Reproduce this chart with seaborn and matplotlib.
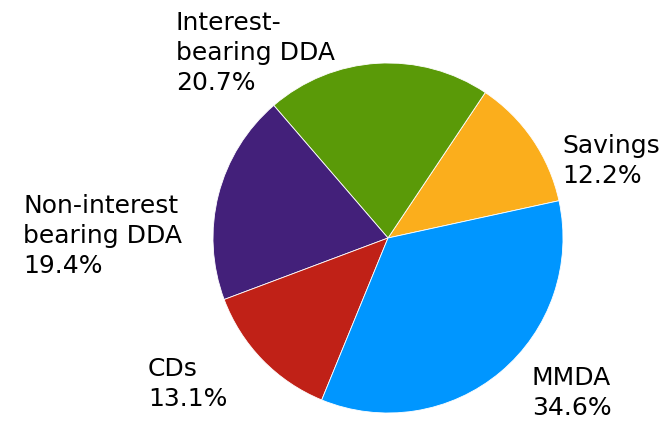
import matplotlib
matplotlib.use("Agg")
import matplotlib.pyplot as plt
import seaborn as sns

sns.set_theme(style="white")
plt.rcParams['font.family'] = ['DejaVu Sans']

categories = ["Savings", "Interest-\nbearing DDA", "Non-interest\nbearing DDA", "CDs", "MMDA"]
values = [12.2, 20.7, 19.4, 13.1, 34.6]
colors = ["#FBAE1C", "#5A9A08", "#43207A", "#C02117", "#0096FF"]

W, H = 671, 422
fig = plt.figure(figsize=(W / 100, H / 100), dpi=100)
cx, cy, r = 388, 238, 175
ax = fig.add_axes([(cx - r) / W, (H - cy - r) / H, 2 * r / W, 2 * r / H])
ax.pie(values, colors=colors, startangle=12.3, counterclock=True, radius=1,
       wedgeprops=dict(edgecolor="white", linewidth=0.6))
ax.set_xlim(-1, 1)
ax.set_ylim(-1, 1)
ax.set_aspect("auto")
ax.axis("off")

# label anchors (top-left of text block, in pixels)
label_pos = [(562, 134), (176, 11), (23, 194), (148, 357), (532, 366)]
for name, v, (px, py) in zip(categories, values, label_pos):
    fig.text(px / W, 1 - py / H, f"{name}\n{v:.1f}%", ha="left", va="top",
             fontsize=18, color="black", linespacing=1.32)

fig.savefig("out.png", dpi=100)
